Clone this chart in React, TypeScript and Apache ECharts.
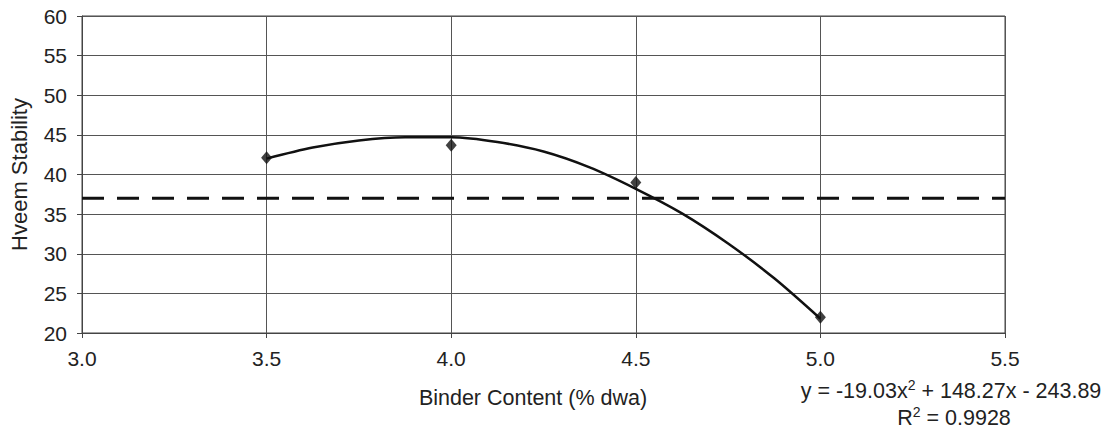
import React, { useEffect, useRef } from "react";
import * as echarts from "echarts";

const pointX = [3.5, 4.0, 4.5, 5.0];
const pointY = [42.1, 43.7, 39.0, 22.0];

const curveX = [3.5, 3.625, 3.75, 3.875, 4.0, 4.125, 4.25, 4.375, 4.5, 4.625, 4.75, 4.875, 5.0];
const curveY = [42.0, 43.4, 44.3, 44.7, 44.7, 44.1, 42.9, 40.9, 38.2, 35.1, 31.3, 26.9, 21.8];

const limitX = [3.0, 5.5];
const limitY = [37.0, 37.0];

const xTicks = { min: 3.0, max: 5.5, interval: 0.5 };
const yTicks = { min: 20, max: 60, interval: 5 };

const FONT = "'Liberation Sans', Arial, sans-serif";

export default function App() {
  const ref = useRef<HTMLDivElement>(null);
  useEffect(() => {
    if (!ref.current) return;
    const chart = echarts.init(ref.current, undefined, { renderer: "svg" });
    const rich = {
      t: { fontSize: 21.5, fontFamily: FONT, fill: "#222", lineHeight: 26 },
      s: { fontSize: 14, fontFamily: FONT, fill: "#222", verticalAlign: "top", lineHeight: 26, padding: [0, 0, 11, 0] },
    };
    chart.setOption({
      animation: false,
      backgroundColor: "#fff",
      textStyle: { fontFamily: FONT },
      grid: { left: 82, right: 114, top: 16, bottom: 103 },
      xAxis: {
        type: "value",
        min: xTicks.min,
        max: xTicks.max,
        interval: xTicks.interval,
        axisLine: { show: true, lineStyle: { color: "#444", width: 1 } },
        axisTick: { show: true, length: 5, lineStyle: { color: "#444" } },
        axisLabel: {
          color: "#222",
          fontSize: 21,
          fontFamily: FONT,
          margin: 15,
          formatter: (v: number) => v.toFixed(1),
        },
        splitLine: { show: true, lineStyle: { color: "#555", width: 1 } },
      },
      yAxis: {
        type: "value",
        min: yTicks.min,
        max: yTicks.max,
        interval: yTicks.interval,
        name: "Hveem Stability",
        nameLocation: "middle",
        nameGap: 52,
        nameTextStyle: { color: "#222", fontSize: 22, fontFamily: FONT },
        axisLine: { show: true, lineStyle: { color: "#444", width: 1 } },
        axisTick: { show: true, length: 5, lineStyle: { color: "#444" } },
        axisLabel: { color: "#222", fontSize: 21, fontFamily: FONT, margin: 15 },
        splitLine: { show: true, lineStyle: { color: "#555", width: 1 } },
      },
      graphic: [
        {
          type: "rect",
          shape: { x: 82, y: 16, width: 1119 - 82 - 114, height: 436 - 16 - 103 },
          style: { fill: "none", stroke: "#444", lineWidth: 1 },
          silent: true,
        },
        {
          type: "text",
          x: 533,
          y: 398,
          style: {
            text: "Binder Content (% dwa)",
            fill: "#222",
            fontSize: 21.5,
            fontFamily: FONT,
            align: "center",
            verticalAlign: "middle",
          },
        },
        {
          type: "text",
          x: 951,
          y: 391,
          style: {
            text: "{t|y = -19.03x}{s|2}{t| + 148.27x - 243.89}",
            rich,
            align: "center",
            verticalAlign: "middle",
          },
        },
        {
          type: "text",
          x: 954,
          y: 418,
          style: {
            text: "{t|R}{s|2}{t| = 0.9928}",
            rich,
            align: "center",
            verticalAlign: "middle",
          },
        },
      ],
      series: [
        {
          type: "line",
          data: limitX.map((x, i) => [x, limitY[i]]),
          symbol: "none",
          lineStyle: { color: "#111", width: 3, type: [22, 13] },
          z: 3,
        },
        {
          type: "line",
          data: curveX.map((x, i) => [x, curveY[i]]),
          smooth: 0.3,
          symbol: "none",
          lineStyle: { color: "#111", width: 2.5 },
          z: 4,
        },
        {
          type: "scatter",
          data: pointX.map((x, i) => [x, pointY[i]]),
          symbol: "diamond",
          symbolSize: [11, 13],
          itemStyle: { color: "#111" },
          z: 5,
        },
      ],
    });
    return () => chart.dispose();
  }, []);
  return <div ref={ref} style={{ width: 1119, height: 436, position: "absolute", left: 0, top: 0 }} />;
}
